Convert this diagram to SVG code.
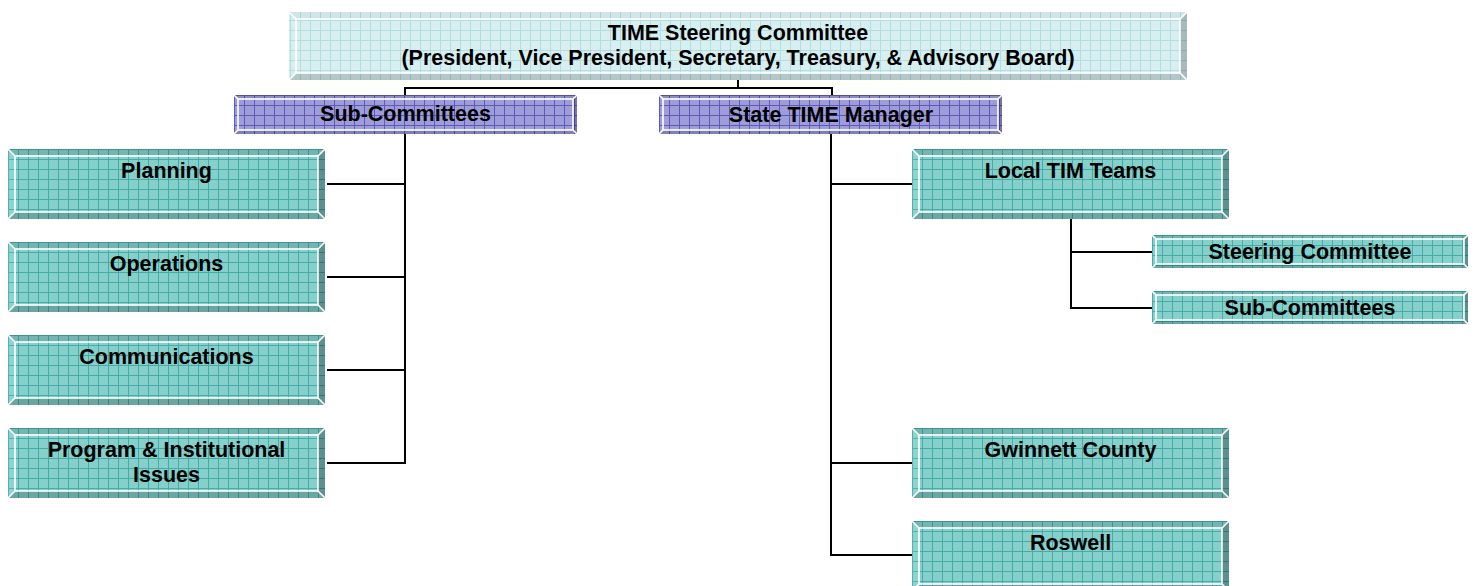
<svg xmlns="http://www.w3.org/2000/svg" width="1475" height="586" viewBox="0 0 1475 586">
<style>
.t{font-family:"Liberation Sans",Arial,sans-serif;font-weight:bold;font-size:21.5px;text-anchor:middle;fill:#000}
.c{fill:none;stroke:#000;stroke-width:2}
.w{fill:none;stroke:#fff;stroke-width:1.6}
</style>
<defs>
<pattern id="gT" width="10" height="10" patternUnits="userSpaceOnUse">
<rect width="10" height="10" fill="#86d0cc"/>
<path d="M0 0.5H10M0.5 0V10" stroke="#46aca8" stroke-width="1"/>
</pattern>
<pattern id="gP" width="10" height="10" patternUnits="userSpaceOnUse">
<rect width="10" height="10" fill="#9e9dd9"/>
<path d="M0 0.5H10M0.5 0V10" stroke="#5d5bb5" stroke-width="1"/>
</pattern>
<pattern id="gL" width="10" height="10" patternUnits="userSpaceOnUse">
<rect width="10" height="10" fill="#d8eff1"/>
<path d="M0 0.5H10M0.5 0V10" stroke="#b4dde0" stroke-width="1"/>
</pattern>
<g id="bT">
<rect width="317" height="70" fill="url(#gT)"/>
<polygon points="0,0 317,0 310,7 7,7" fill="#000" opacity=".13"/>
<polygon points="0,70 317,70 310,63 7,63" fill="#000" opacity=".2"/>
<polygon points="0,0 7,7 7,63 0,70" fill="#fff" opacity=".08"/>
<polygon points="317,0 310,7 310,63 317,70" fill="#000" opacity=".3"/>
<rect x="7" y="7" width="303" height="56" class="w"/>
<path d="M0 0L7 7M317 0L310 7M0 70L7 63M317 70L310 63" class="w"/>
</g>
<g id="bS">
<rect width="316" height="33" fill="url(#gT)"/>
<polygon points="0,0 316,0 312,4 4,4" fill="#000" opacity=".13"/>
<polygon points="0,33 316,33 312,29 4,29" fill="#000" opacity=".2"/>
<polygon points="316,0 312,4 312,29 316,33" fill="#000" opacity=".3"/>
<rect x="4" y="4" width="308" height="25" class="w"/>
<path d="M0 0L4 4M316 0L312 4M0 33L4 29M316 33L312 29" class="w"/>
</g>
<g id="bP">
<rect width="343" height="39" fill="url(#gP)"/>
<polygon points="0,0 343,0 339,4 4,4" fill="#000" opacity=".1"/>
<polygon points="0,39 343,39 339,35 4,35" fill="#000" opacity=".18"/>
<polygon points="343,0 339,4 339,35 343,39" fill="#000" opacity=".25"/>
<rect x="4" y="4" width="335" height="31" class="w"/>
<path d="M0 0L4 4M343 0L339 4M0 39L4 35M343 39L339 35" class="w"/>
</g>
</defs>
<rect width="1475" height="586" fill="#fff"/>

<g id="connectors">
<path class="c" d="M738 80V88M405 88H832M405 87V95M832 87V95"/>
<path class="c" d="M405 134V464M327 184H405M327 277H405M327 370H405M327 463H405"/>
<path class="c" d="M831 134V556M831 184H912M831 463H912M831 555H912"/>
<path class="c" d="M1071 219V309M1071 252H1152M1071 308H1152"/>
</g>

<g id="node-steering">
<rect x="289" y="12" width="898" height="68" fill="url(#gL)"/>
<polygon points="289,12 1187,12 1180,19 296,19" fill="#000" opacity=".04"/>
<polygon points="289,80 1187,80 1180,73 296,73" fill="#000" opacity=".17"/>
<polygon points="1187,12 1180,19 1180,73 1187,80" fill="#000" opacity=".22"/>
<rect x="296" y="19" width="884" height="54" class="w"/>
<path d="M289 12L296 19M1187 12L1180 19M289 80L296 73M1187 80L1180 73" class="w"/>
<text class="t" x="738" y="40">TIME Steering Committee</text>
<text class="t" x="738" y="65">(President, Vice President, Secretary, Treasury, &amp; Advisory Board)</text>
</g>

<g id="node-subcommittees">
<use href="#bP" x="234" y="95"/>
<text class="t" x="405.5" y="121">Sub-Committees</text>
</g>
<g id="node-state-manager">
<use href="#bP" x="659" y="95"/>
<text class="t" x="831" y="122">State TIME Manager</text>
</g>

<g id="node-planning">
<use href="#bT" x="8" y="149"/>
<text class="t" x="166.5" y="178">Planning</text>
</g>
<g id="node-operations">
<use href="#bT" x="8" y="242"/>
<text class="t" x="166.5" y="271">Operations</text>
</g>
<g id="node-communications">
<use href="#bT" x="8" y="335"/>
<text class="t" x="166.5" y="364">Communications</text>
</g>
<g id="node-program">
<use href="#bT" x="8" y="428"/>
<text class="t" x="166.5" y="457">Program &amp; Institutional</text>
<text class="t" x="166.5" y="482">Issues</text>
</g>

<g id="node-local-tim">
<use href="#bT" x="912" y="149"/>
<text class="t" x="1070.5" y="178">Local TIM Teams</text>
</g>
<g id="node-local-steering">
<use href="#bS" x="1152" y="235"/>
<text class="t" x="1310" y="259">Steering Committee</text>
</g>
<g id="node-local-sub">
<use href="#bS" x="1152" y="291"/>
<text class="t" x="1310" y="315">Sub-Committees</text>
</g>
<g id="node-gwinnett">
<use href="#bT" x="912" y="428"/>
<text class="t" x="1070.5" y="457">Gwinnett County</text>
</g>
<g id="node-roswell">
<use href="#bT" x="912" y="521"/>
<text class="t" x="1070.5" y="550">Roswell</text>
</g>
</svg>
